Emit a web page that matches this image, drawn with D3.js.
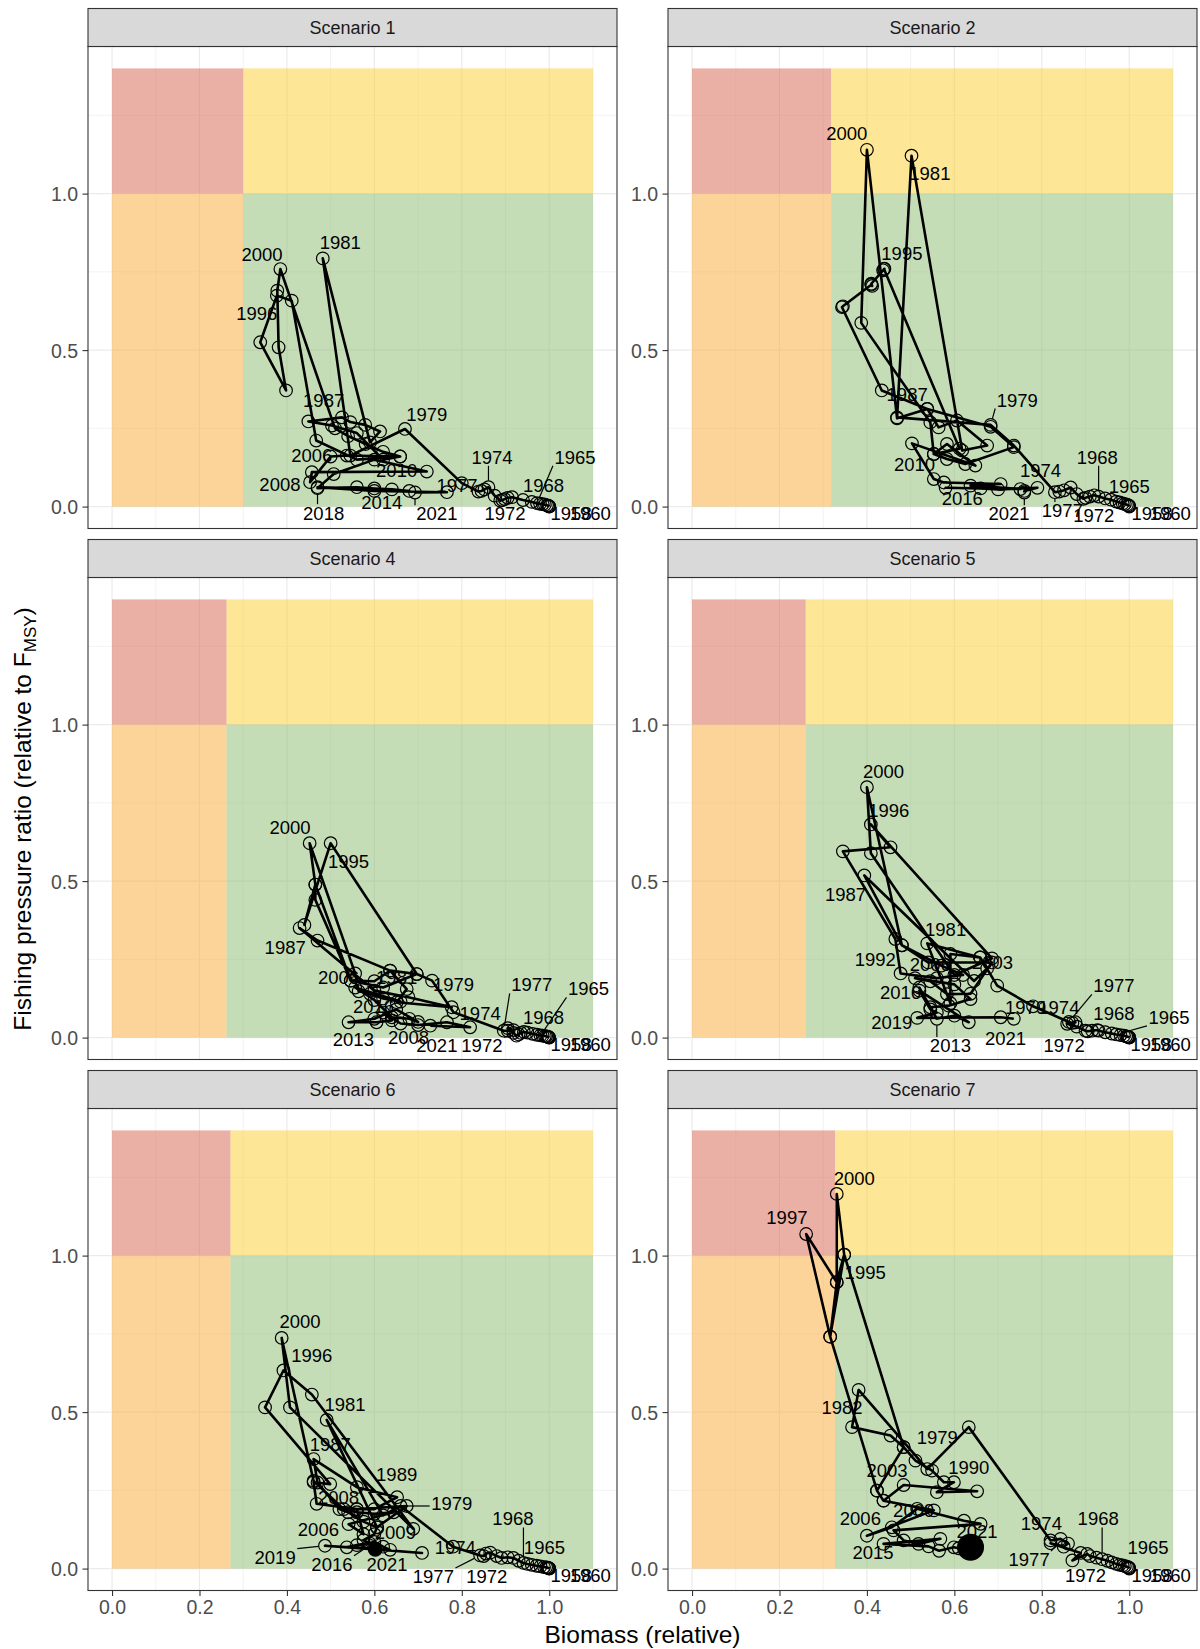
<!DOCTYPE html>
<html><head><meta charset="utf-8">
<script src="https://cdn.jsdelivr.net/npm/d3@7"></script>
<style>body{margin:0;background:#fff}</style>
</head><body>
<svg id="chart" width="1200" height="1649" xmlns="http://www.w3.org/2000/svg"></svg>
<script>
// ---------------- DATA ----------------
const scenarioNames = ["Scenario 1","Scenario 2","Scenario 4","Scenario 5","Scenario 6","Scenario 7"];
const bThresholds = [0.300, 0.318, 0.262, 0.260, 0.271, 0.327];
const xTicks = [0, 0.2, 0.4, 0.6, 0.8, 1.0];
const xTickLabels = ["0.0","0.2","0.4","0.6","0.8","1.0"];
const yTicks = [0, 0.5, 1.0];
const yTickLabels = ["0.0","0.5","1.0"];
const xMinor = [0.1, 0.3, 0.5, 0.7, 0.9, 1.1];
const yMinor = [0.25, 0.75, 1.25];

// [year, biomass (relative), fishing pressure ratio]
const s1 = [[1958,1.000,0.000],[1959,1.000,0.001],[1960,0.998,0.003],[1961,0.995,0.004],[1962,0.990,0.006],[1963,0.985,0.008],[1964,0.979,0.009],[1965,0.972,0.011],[1966,0.960,0.015],[1967,0.940,0.021],[1968,0.915,0.030],[1969,0.905,0.028],[1970,0.898,0.024],[1971,0.893,0.021],[1972,0.888,0.019],[1973,0.875,0.035],[1974,0.861,0.062],[1975,0.852,0.055],[1976,0.845,0.050],[1977,0.838,0.048],[1978,0.800,0.075],[1979,0.670,0.248],[1980,0.545,0.163],[1981,0.482,0.793],[1982,0.590,0.205],[1983,0.613,0.240],[1984,0.579,0.261],[1985,0.545,0.270],[1986,0.526,0.285],[1987,0.449,0.272],[1988,0.503,0.259],[1989,0.560,0.235],[1990,0.620,0.150],[1991,0.659,0.160],[1992,0.560,0.150],[1993,0.467,0.211],[1994,0.411,0.658],[1995,0.377,0.674],[1996,0.339,0.525],[1997,0.398,0.371],[1998,0.381,0.509],[1999,0.378,0.690],[2000,0.385,0.759],[2001,0.510,0.250],[2002,0.540,0.225],[2003,0.580,0.200],[2004,0.620,0.175],[2005,0.659,0.160],[2006,0.537,0.163],[2007,0.500,0.160],[2008,0.453,0.078],[2009,0.457,0.110],[2010,0.720,0.112],[2011,0.600,0.150],[2012,0.507,0.104],[2013,0.470,0.059],[2014,0.560,0.062],[2015,0.600,0.058],[2016,0.640,0.055],[2017,0.680,0.050],[2018,0.470,0.062],[2019,0.600,0.050],[2020,0.766,0.046],[2021,0.693,0.045]];
const s2 = [[1958,1.000,0.000],[1959,1.000,0.002],[1960,0.998,0.004],[1961,0.995,0.006],[1962,0.990,0.008],[1963,0.985,0.010],[1964,0.978,0.013],[1965,0.970,0.016],[1966,0.958,0.022],[1967,0.945,0.026],[1968,0.930,0.032],[1969,0.920,0.036],[1970,0.910,0.032],[1971,0.900,0.028],[1972,0.895,0.025],[1973,0.880,0.040],[1974,0.866,0.061],[1975,0.851,0.052],[1976,0.840,0.048],[1977,0.830,0.046],[1978,0.736,0.195],[1979,0.683,0.261],[1980,0.469,0.285],[1981,0.502,1.121],[1982,0.618,0.179],[1983,0.675,0.195],[1984,0.606,0.275],[1985,0.564,0.253],[1986,0.538,0.312],[1987,0.434,0.371],[1988,0.343,0.637],[1989,0.345,0.640],[1990,0.410,0.709],[1991,0.412,0.705],[1992,0.410,0.712],[1993,0.437,0.755],[1994,0.440,0.760],[1995,0.439,0.759],[1996,0.612,0.185],[1997,0.553,0.168],[1998,0.545,0.269],[1999,0.387,0.587],[2000,0.400,1.140],[2001,0.469,0.282],[2002,0.538,0.312],[2003,0.683,0.255],[2004,0.736,0.190],[2005,0.625,0.136],[2006,0.583,0.152],[2007,0.553,0.168],[2008,0.583,0.200],[2009,0.648,0.131],[2010,0.503,0.202],[2011,0.553,0.088],[2012,0.576,0.077],[2013,0.706,0.072],[2014,0.637,0.067],[2015,0.751,0.056],[2016,0.580,0.060],[2017,0.660,0.058],[2018,0.700,0.055],[2019,0.790,0.060],[2020,0.760,0.050],[2021,0.760,0.045]];
const s4 = [[1958,1.000,0.000],[1959,0.999,0.001],[1960,0.998,0.002],[1961,0.996,0.003],[1962,0.993,0.004],[1963,0.990,0.005],[1964,0.985,0.006],[1965,0.980,0.007],[1966,0.972,0.009],[1967,0.962,0.012],[1968,0.950,0.016],[1969,0.942,0.018],[1970,0.935,0.015],[1971,0.930,0.010],[1972,0.925,0.006],[1973,0.918,0.015],[1974,0.905,0.030],[1975,0.918,0.024],[1976,0.905,0.022],[1977,0.896,0.022],[1978,0.781,0.081],[1979,0.732,0.182],[1980,0.697,0.203],[1981,0.636,0.214],[1982,0.674,0.155],[1983,0.651,0.113],[1984,0.777,0.097],[1985,0.678,0.129],[1986,0.600,0.150],[1987,0.429,0.350],[1988,0.470,0.310],[1989,0.636,0.214],[1990,0.600,0.180],[1991,0.546,0.182],[1992,0.465,0.440],[1993,0.465,0.489],[1994,0.440,0.360],[1995,0.500,0.621],[1996,0.697,0.203],[1997,0.620,0.160],[1998,0.546,0.182],[1999,0.465,0.489],[2000,0.452,0.621],[2001,0.556,0.205],[2002,0.564,0.148],[2003,0.590,0.140],[2004,0.620,0.125],[2005,0.660,0.115],[2006,0.556,0.160],[2007,0.600,0.120],[2008,0.640,0.065],[2009,0.680,0.060],[2010,0.700,0.050],[2011,0.650,0.090],[2012,0.600,0.060],[2013,0.541,0.049],[2014,0.605,0.049],[2015,0.640,0.055],[2016,0.620,0.080],[2017,0.660,0.045],[2018,0.700,0.040],[2019,0.766,0.049],[2020,0.819,0.033],[2021,0.728,0.038]];
const s5 = [[1958,1.000,0.000],[1959,1.000,0.001],[1960,0.998,0.002],[1961,0.996,0.003],[1962,0.993,0.004],[1963,0.988,0.006],[1964,0.980,0.008],[1965,0.970,0.010],[1966,0.960,0.013],[1967,0.945,0.017],[1968,0.930,0.022],[1969,0.927,0.024],[1970,0.915,0.022],[1971,0.905,0.020],[1972,0.900,0.022],[1973,0.880,0.035],[1974,0.858,0.044],[1975,0.877,0.049],[1976,0.870,0.047],[1977,0.862,0.050],[1978,0.780,0.100],[1979,0.698,0.166],[1980,0.659,0.256],[1981,0.538,0.301],[1982,0.591,0.110],[1983,0.591,0.267],[1984,0.659,0.256],[1985,0.675,0.221],[1986,0.645,0.181],[1987,0.394,0.518],[1988,0.480,0.295],[1989,0.570,0.230],[1990,0.620,0.200],[1991,0.560,0.190],[1992,0.477,0.205],[1993,0.465,0.315],[1994,0.345,0.595],[1995,0.454,0.608],[1996,0.409,0.681],[1997,0.686,0.253],[1998,0.600,0.200],[1999,0.409,0.589],[2000,0.400,0.800],[2001,0.480,0.295],[2002,0.540,0.240],[2003,0.686,0.240],[2004,0.637,0.140],[2005,0.583,0.139],[2006,0.545,0.180],[2007,0.510,0.190],[2008,0.600,0.170],[2009,0.637,0.123],[2010,0.587,0.102],[2011,0.545,0.097],[2012,0.520,0.160],[2013,0.560,0.060],[2014,0.600,0.070],[2015,0.633,0.049],[2016,0.520,0.150],[2017,0.545,0.090],[2018,0.560,0.080],[2019,0.515,0.063],[2020,0.706,0.065],[2021,0.736,0.060]];
const s6 = [[1958,1.000,0.000],[1959,1.000,0.001],[1960,0.998,0.002],[1961,0.996,0.003],[1962,0.993,0.004],[1963,0.988,0.005],[1964,0.980,0.007],[1965,0.971,0.009],[1966,0.960,0.012],[1967,0.950,0.015],[1968,0.941,0.018],[1969,0.930,0.025],[1970,0.918,0.034],[1971,0.905,0.036],[1972,0.891,0.034],[1973,0.880,0.040],[1974,0.865,0.051],[1975,0.855,0.048],[1976,0.850,0.040],[1977,0.842,0.042],[1978,0.780,0.070],[1979,0.660,0.200],[1980,0.620,0.170],[1981,0.491,0.475],[1982,0.606,0.132],[1983,0.575,0.150],[1984,0.540,0.180],[1985,0.520,0.190],[1986,0.470,0.275],[1987,0.461,0.350],[1988,0.560,0.260],[1989,0.652,0.228],[1990,0.600,0.190],[1991,0.560,0.190],[1992,0.468,0.207],[1993,0.461,0.276],[1994,0.499,0.270],[1995,0.350,0.515],[1996,0.392,0.633],[1997,0.457,0.556],[1998,0.689,0.127],[1999,0.407,0.515],[2000,0.388,0.737],[2001,0.461,0.280],[2002,0.530,0.190],[2003,0.560,0.180],[2004,0.600,0.175],[2005,0.644,0.180],[2006,0.541,0.142],[2007,0.575,0.110],[2008,0.560,0.190],[2009,0.674,0.200],[2010,0.606,0.132],[2011,0.600,0.110],[2012,0.575,0.091],[2013,0.590,0.080],[2014,0.537,0.068],[2015,0.560,0.075],[2016,0.600,0.085],[2017,0.620,0.070],[2018,0.636,0.060],[2019,0.487,0.073],[2020,0.709,0.050],[2021,0.602,0.062]];
const s7 = [[1958,1.000,0.000],[1959,1.000,0.002],[1960,0.998,0.004],[1961,0.995,0.006],[1962,0.990,0.008],[1963,0.985,0.010],[1964,0.978,0.012],[1965,0.970,0.015],[1966,0.960,0.020],[1967,0.950,0.025],[1968,0.938,0.030],[1969,0.925,0.035],[1970,0.910,0.040],[1971,0.904,0.047],[1972,0.870,0.026],[1973,0.889,0.050],[1974,0.820,0.081],[1975,0.850,0.070],[1976,0.860,0.080],[1977,0.843,0.095],[1978,0.820,0.090],[1979,0.633,0.452],[1980,0.538,0.318],[1981,0.381,0.571],[1982,0.366,0.452],[1983,0.454,0.425],[1984,0.484,0.388],[1985,0.511,0.345],[1986,0.549,0.313],[1987,0.576,0.276],[1988,0.599,0.276],[1989,0.560,0.244],[1990,0.652,0.247],[1991,0.484,0.267],[1992,0.438,0.217],[1993,0.423,0.249],[1994,0.316,0.741],[1995,0.348,1.003],[1996,0.331,0.915],[1997,0.261,1.069],[1998,0.316,0.741],[1999,0.331,0.915],[2000,0.331,1.197],[2001,0.348,1.003],[2002,0.484,0.388],[2003,0.423,0.249],[2004,0.438,0.217],[2005,0.553,0.186],[2006,0.400,0.105],[2007,0.457,0.132],[2008,0.515,0.191],[2009,0.622,0.153],[2010,0.660,0.143],[2011,0.461,0.122],[2012,0.484,0.090],[2013,0.518,0.079],[2014,0.568,0.095],[2015,0.438,0.079],[2016,0.541,0.071],[2017,0.565,0.057],[2018,0.599,0.068],[2019,0.610,0.065],[2020,0.625,0.068],[2021,0.637,0.068]];

// Year labels: [year, label centre biomass, label centre F, leader segment 0/1]
const l1 = [[2000,0.343,0.807,0],[1981,0.522,0.845,0],[1996,0.331,0.616,0],[1987,0.484,0.339,0],[1979,0.720,0.296,0],[2006,0.457,0.163,0],[2010,0.651,0.115,0],[2008,0.384,0.072,0],[1977,0.789,0.067,0],[1974,0.869,0.158,1],[1965,1.059,0.158,1],[1968,0.987,0.067,0],[2018,0.484,-0.020,1],[2014,0.617,0.012,0],[2021,0.743,-0.023,1],[1972,0.899,-0.023,0],[1958,1.050,-0.023,0],[1960,1.094,-0.023,0]];
const l2 = [[2000,0.354,1.191,0],[1981,0.544,1.065,0],[1995,0.480,0.809,0],[1987,0.492,0.360,0],[1979,0.744,0.341,1],[2010,0.509,0.136,0],[1974,0.797,0.115,0],[1968,0.927,0.158,1],[1965,1.000,0.065,0],[2016,0.618,0.025,0],[2021,0.725,-0.023,1],[1977,0.847,-0.013,1],[1972,0.919,-0.029,0],[1958,1.052,-0.023,0],[1960,1.094,-0.023,0]];
const l4 = [[2000,0.407,0.672,0],[1995,0.541,0.562,0],[1987,0.396,0.289,0],[2006,0.518,0.193,0],[1981,0.651,0.193,0],[1979,0.781,0.169,0],[2016,0.598,0.099,0],[1974,0.842,0.076,0],[1977,0.960,0.169,1],[1965,1.090,0.156,1],[1968,0.987,0.065,0],[2013,0.552,-0.004,0],[2008,0.678,0.001,0],[2021,0.743,-0.026,0],[1972,0.846,-0.026,1],[1958,1.050,-0.023,0],[1960,1.094,-0.023,0]];
const l5 = [[2000,0.438,0.851,0],[1996,0.450,0.727,0],[1987,0.351,0.459,0],[1981,0.580,0.347,0],[1992,0.419,0.251,0],[2006,0.545,0.235,0],[2003,0.687,0.241,0],[2016,0.477,0.143,0],[2019,0.457,0.049,0],[1977,0.965,0.166,1],[1979,0.763,0.097,0],[1974,0.839,0.097,0],[1968,0.965,0.076,0],[1965,1.091,0.065,1],[2013,0.591,-0.026,1],[2021,0.717,-0.001,0],[1972,0.851,-0.026,0],[1958,1.050,-0.023,0],[1960,1.094,-0.023,0]];
const l6 = [[2000,0.430,0.790,0],[1996,0.457,0.681,0],[1981,0.533,0.524,0],[1987,0.499,0.398,0],[1989,0.651,0.300,0],[1979,0.777,0.207,1],[2008,0.518,0.228,0],[2006,0.472,0.127,0],[2009,0.648,0.116,0],[1968,0.917,0.159,1],[1965,0.989,0.068,0],[1974,0.785,0.068,0],[2019,0.373,0.036,1],[2016,0.503,0.013,1],[2021,0.629,0.013,0],[1977,0.735,-0.026,1],[1972,0.857,-0.026,0],[1958,1.050,-0.023,0],[1960,1.094,-0.023,0]];
const l7 = [[2000,0.371,1.248,0],[1997,0.217,1.122,0],[1995,0.396,0.947,0],[1982,0.343,0.515,0],[1979,0.561,0.418,0],[1990,0.633,0.324,0],[2003,0.446,0.313,0],[2009,0.507,0.185,0],[2006,0.385,0.159,0],[2021,0.652,0.119,0],[2015,0.414,0.052,0],[1974,0.799,0.146,0],[1968,0.929,0.159,1],[1965,1.043,0.068,0],[1977,0.771,0.028,1],[1972,0.900,-0.022,0],[1958,1.052,-0.023,0],[1960,1.094,-0.023,0]];

// highlighted terminal year per scenario (filled marker)
const highlightYear = [null, null, null, null, 2021, 2021];

// ---------------- LAYOUT / STYLE ----------------
const series = [s1, s2, s4, s5, s6, s7];
const labelSets = [l1, l2, l4, l5, l6, l7];
const highlightRadius = [0, 0, 0, 0, 7.5, 13.5];
const FONT = "'Liberation Sans', Arial, Helvetica, sans-serif";
const colX = [88, 668], rowTop = [8.5, 539.5, 1070.5];
const panelW = 529, stripH = 38, plotH = 482;
const zoneFill = {red:"#D7614B", yellow:"#FBCD2D", orange:"#F9A933", green:"#8BBB6F"};
const labelFS = 18.5;

const svg = d3.select("#chart");
svg.append("rect").attr("width",1200).attr("height",1649).attr("fill","#fff");

series.forEach((data, i) => {
  const col = i % 2, row = Math.floor(i / 2);
  const left = colX[col], sTop = rowTop[row], top = sTop + stripH, bottom = top + plotH;
  const x = d3.scaleLinear().domain([-0.055, 1.155]).range([left, left + panelW]);
  const y = d3.scaleLinear().domain([-0.07, 1.47]).range([bottom, top]);
  const g = svg.append("g");

  g.append("rect").attr("x", left).attr("y", top).attr("width", panelW).attr("height", plotH).attr("fill", "#fff");

  // grid
  g.selectAll(".xminor").data(xMinor).join("line")
    .attr("x1", d => x(d)).attr("x2", d => x(d)).attr("y1", top).attr("y2", bottom)
    .attr("stroke", "#EBEBEB").attr("stroke-width", 0.6);
  g.selectAll(".yminor").data(yMinor).join("line")
    .attr("y1", d => y(d)).attr("y2", d => y(d)).attr("x1", left).attr("x2", left + panelW)
    .attr("stroke", "#EBEBEB").attr("stroke-width", 0.6);
  g.selectAll(".xmajor").data(xTicks).join("line")
    .attr("x1", d => x(d)).attr("x2", d => x(d)).attr("y1", top).attr("y2", bottom)
    .attr("stroke", "#EBEBEB").attr("stroke-width", 1.2);
  g.selectAll(".ymajor").data(yTicks).join("line")
    .attr("y1", d => y(d)).attr("y2", d => y(d)).attr("x1", left).attr("x2", left + panelW)
    .attr("stroke", "#EBEBEB").attr("stroke-width", 1.2);

  // Kobe zones
  const thr = bThresholds[i];
  const zones = [
    {x0:0, x1:thr, y0:1, y1:1.4, c:zoneFill.red},
    {x0:thr, x1:1.1, y0:1, y1:1.4, c:zoneFill.yellow},
    {x0:0, x1:thr, y0:0, y1:1, c:zoneFill.orange},
    {x0:thr, x1:1.1, y0:0, y1:1, c:zoneFill.green}
  ];
  g.selectAll(".zone").data(zones).join("rect")
    .attr("x", d => x(d.x0)).attr("width", d => x(d.x1) - x(d.x0))
    .attr("y", d => y(d.y1)).attr("height", d => y(d.y0) - y(d.y1))
    .attr("fill", d => d.c).attr("fill-opacity", 0.5);

  // labels + leaders
  const byYear = new Map(data.map(d => [d[0], d]));
  const lg = g.append("g");
  labelSets[i].forEach(l => {
    const pt = byYear.get(l[0]);
    const lx = x(l[1]), ly = y(l[2]);
    const t = lg.append("text").attr("x", lx).attr("y", ly + 0.36 * labelFS)
      .attr("text-anchor", "middle").attr("font-family", FONT).attr("font-size", labelFS)
      .attr("fill", "#000").text(String(l[0]));
    if (l[3] && pt) {
      const w = t.node().getComputedTextLength();
      const px = x(pt[1]), py = y(pt[2]);
      const hw = w / 2 + 1.5, hh = labelFS * 0.36 + 2;
      const cx = Math.max(lx - hw, Math.min(px, lx + hw));
      const cy = Math.max(ly - hh, Math.min(py, ly + hh));
      const dx = cx - px, dy = cy - py, dist = Math.hypot(dx, dy);
      if (dist > 7) {
        const sx = px + dx / dist * 6.5, sy = py + dy / dist * 6.5;
        lg.append("line").attr("x1", sx).attr("y1", sy).attr("x2", cx).attr("y2", cy)
          .attr("stroke", "#000").attr("stroke-width", 1.2);
      }
    }
  });

  // path
  const line = d3.line().x(d => x(d[1])).y(d => y(d[2]));
  g.append("path").datum(data).attr("d", line).attr("fill", "none")
    .attr("stroke", "#000").attr("stroke-width", 2.6).attr("stroke-linejoin", "round");

  // points
  g.selectAll(".pt").data(data).join("circle")
    .attr("cx", d => x(d[1])).attr("cy", d => y(d[2])).attr("r", 6.3)
    .attr("fill", "none").attr("stroke", "#000").attr("stroke-width", 1.2);

  // highlighted terminal year
  if (highlightYear[i] !== null) {
    const hp = byYear.get(highlightYear[i]);
    g.append("circle").attr("cx", x(hp[1])).attr("cy", y(hp[2])).attr("r", highlightRadius[i])
      .attr("fill", "#000");
  }

  // panel border
  g.append("rect").attr("x", left).attr("y", top).attr("width", panelW).attr("height", plotH)
    .attr("fill", "none").attr("stroke", "#333333").attr("stroke-width", 1.1);

  // strip
  g.append("rect").attr("x", left).attr("y", sTop).attr("width", panelW).attr("height", stripH)
    .attr("fill", "#D9D9D9").attr("stroke", "#333333").attr("stroke-width", 1.1);
  g.append("text").attr("x", left + panelW / 2).attr("y", sTop + stripH / 2 + 6.4)
    .attr("text-anchor", "middle").attr("font-family", FONT).attr("font-size", 18)
    .attr("fill", "#1A1A1A").text(scenarioNames[i]);

  // y axis
  const ya = g.append("g").attr("transform", `translate(${left},0)`)
    .call(d3.axisLeft(y).tickValues(yTicks).tickFormat((d, k) => yTickLabels[k]).tickSize(5.5).tickPadding(4.5));
  ya.select(".domain").remove();
  ya.selectAll("line").attr("stroke", "#333333").attr("stroke-width", 1.1);
  ya.selectAll("text").attr("font-family", FONT).attr("font-size", 19.5).attr("fill", "#4D4D4D").attr("dy", "0.36em");

  // x axis (bottom row only)
  if (row === 2) {
    const xa = g.append("g").attr("transform", `translate(0,${bottom})`)
      .call(d3.axisBottom(x).tickValues(xTicks).tickFormat((d, k) => xTickLabels[k]).tickSize(5.5).tickPadding(4.2));
    xa.select(".domain").remove();
    xa.selectAll("line").attr("stroke", "#333333").attr("stroke-width", 1.1);
    xa.selectAll("text").attr("font-family", FONT).attr("font-size", 19.5).attr("fill", "#4D4D4D");
  }
});

// axis titles
svg.append("text").attr("x", 642.5).attr("y", 1643).attr("text-anchor", "middle")
  .attr("font-family", FONT).attr("font-size", 24.5).attr("fill", "#000").text("Biomass (relative)");
const yt = svg.append("text").attr("transform", "translate(31,819) rotate(-90)").attr("text-anchor", "middle")
  .attr("font-family", FONT).attr("font-size", 24.5).attr("fill", "#000");
yt.append("tspan").text("Fishing pressure ratio (relative to F");
yt.append("tspan").attr("font-size", 17).attr("dy", 5).text("MSY");
yt.append("tspan").attr("dy", -5).text(")");
</script>
</body></html>
